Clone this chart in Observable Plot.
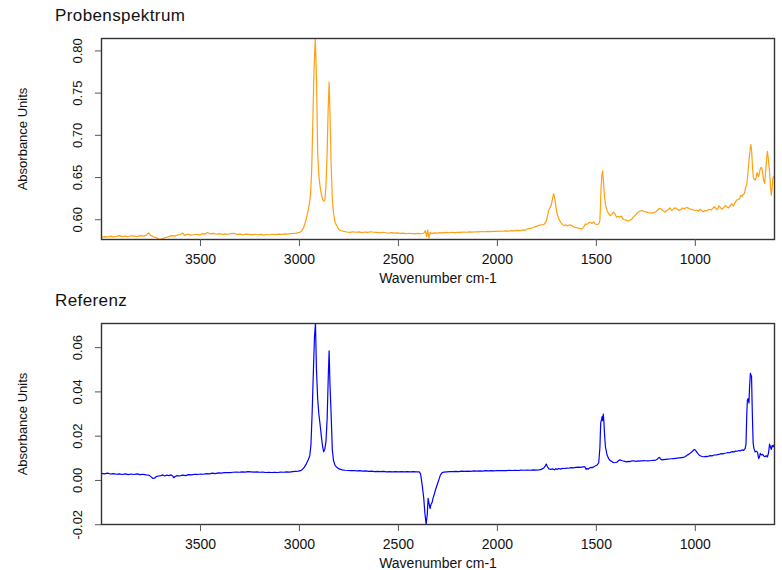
<!DOCTYPE html>
<html><head><meta charset="utf-8">
<script src="https://cdn.jsdelivr.net/npm/d3@7"></script>
<script src="https://cdn.jsdelivr.net/npm/@observablehq/plot@0.6"></script>
<style>
body{margin:0;background:#fff;font-family:"Liberation Sans",Arial,sans-serif}
#wrap{position:relative;width:782px;height:570px;overflow:hidden}
.title{position:absolute;left:55px;font-size:17px;letter-spacing:0.4px;line-height:17px;color:#111;white-space:nowrap}
.panel{position:absolute;left:0}
</style></head><body>
<div id="wrap"></div>
<script>
// ---------- data ----------
const xTicks = [3500, 3000, 2500, 2000, 1500, 1000];
const topYTicks = [0.60, 0.65, 0.70, 0.75, 0.80];
const bottomYTicks = [-0.02, 0.00, 0.02, 0.04, 0.06];
const titles = ["Probenspektrum", "Referenz"];

const probeWn = [4000,3985,3970,3955,3940,3925,3910,3895,3880,3865,3850,3835,3820,3805,3790,3775,3762,3755,3740,3725,3710,3700,3690,3675,3660,3645,3630,3615,3600,3590,3580,3565,3550,3535,3520,3505,3490,3475,3465,3450,3435,3420,3405,3390,3375,3360,3345,3330,3315,3300,3285,3270,3255,3240,3225,3210,3195,3180,3165,3150,3135,3120,3105,3090,3075,3060,3045,3030,3015,3000,2990,2980,2970,2960,2950,2944,2938,2932,2926,2920,2914,2908,2902,2896,2890,2884,2877,2871,2866,2860,2855,2850,2845,2840,2834,2828,2820,2810,2800,2790,2775,2760,2745,2730,2715,2700,2685,2670,2655,2640,2625,2610,2595,2580,2565,2550,2535,2520,2505,2490,2475,2460,2445,2430,2415,2400,2385,2372,2364,2358,2352,2346,2340,2332,2320,2305,2290,2275,2260,2245,2230,2215,2200,2185,2170,2155,2140,2125,2110,2095,2080,2065,2050,2035,2020,2005,1990,1975,1960,1945,1930,1915,1900,1885,1870,1860,1850,1840,1830,1820,1810,1800,1790,1780,1765,1752,1742,1735,1728,1722,1716,1710,1704,1698,1690,1680,1672,1664,1656,1648,1640,1631,1622,1614,1606,1598,1590,1580,1572,1564,1556,1548,1540,1530,1522,1514,1506,1496,1488,1482,1476,1472,1468,1464,1460,1454,1446,1438,1430,1422,1414,1406,1398,1390,1382,1374,1366,1358,1350,1340,1332,1322,1314,1305,1296,1288,1280,1270,1262,1254,1246,1238,1228,1218,1210,1200,1192,1184,1176,1168,1160,1152,1144,1136,1128,1120,1112,1104,1096,1088,1080,1072,1064,1056,1048,1040,1032,1024,1016,1008,1000,992,984,976,968,960,952,944,936,928,920,912,904,896,888,880,872,864,856,848,840,832,824,816,808,800,792,784,776,770,764,758,752,746,740,734,728,722,719,715,711,707,702,697,692,688,684,680,676,671,666,661,656,650,645,640,636,632,628,624,620,616,612,608,604,600];
const probeAbs = [0.5793,0.5800,0.5796,0.5805,0.5798,0.5803,0.5812,0.5800,0.5806,0.5798,0.5810,0.5805,0.5800,0.5812,0.5806,0.5815,0.5845,0.5820,0.5800,0.5790,0.5772,0.5768,0.5778,0.5790,0.5800,0.5812,0.5806,0.5820,0.5825,0.5842,0.5815,0.5830,0.5818,0.5822,0.5828,0.5820,0.5835,0.5830,0.5848,0.5832,0.5838,0.5828,0.5835,0.5826,0.5832,0.5828,0.5835,0.5840,0.5826,0.5830,0.5822,0.5830,0.5826,0.5820,0.5828,0.5822,0.5826,0.5818,0.5825,0.5822,0.5828,0.5824,0.5830,0.5826,0.5832,0.5830,0.5835,0.5838,0.5842,0.5850,0.5865,0.5900,0.5970,0.6070,0.6180,0.6300,0.6600,0.7200,0.7800,0.8147,0.7700,0.6800,0.6520,0.6400,0.6310,0.6250,0.6220,0.6240,0.6400,0.6800,0.7300,0.7627,0.7200,0.6670,0.6250,0.6080,0.5970,0.5920,0.5885,0.5870,0.5862,0.5855,0.5850,0.5858,0.5852,0.5856,0.5848,0.5855,0.5850,0.5858,0.5852,0.5850,0.5845,0.5852,0.5846,0.5840,0.5848,0.5842,0.5845,0.5838,0.5842,0.5835,0.5840,0.5836,0.5832,0.5838,0.5834,0.5840,0.5870,0.5800,0.5880,0.5786,0.5850,0.5835,0.5845,0.5842,0.5848,0.5845,0.5850,0.5846,0.5852,0.5848,0.5852,0.5850,0.5855,0.5852,0.5856,0.5854,0.5858,0.5856,0.5860,0.5858,0.5862,0.5860,0.5864,0.5862,0.5866,0.5864,0.5868,0.5866,0.5870,0.5868,0.5874,0.5870,0.5880,0.5876,0.5890,0.5895,0.5900,0.5905,0.5915,0.5925,0.5935,0.5940,0.5942,0.5990,0.6100,0.6140,0.6170,0.6240,0.6310,0.6250,0.6150,0.6070,0.6010,0.5970,0.5945,0.5930,0.5940,0.5925,0.5935,0.5940,0.5925,0.5915,0.5910,0.5905,0.5900,0.5895,0.5892,0.5910,0.5950,0.5945,0.5960,0.5970,0.5955,0.5975,0.5950,0.5945,0.5950,0.5990,0.6390,0.6530,0.6580,0.6450,0.6300,0.6180,0.6110,0.6070,0.6050,0.6060,0.6090,0.6070,0.6030,0.6040,0.6030,0.6045,0.6010,0.6000,0.5995,0.5985,0.5990,0.6005,0.6030,0.6050,0.6075,0.6090,0.6100,0.6110,0.6100,0.6095,0.6090,0.6085,0.6082,0.6078,0.6085,0.6095,0.6110,0.6130,0.6135,0.6115,0.6100,0.6090,0.6110,0.6125,0.6140,0.6110,0.6125,0.6140,0.6135,0.6120,0.6110,0.6125,0.6140,0.6130,0.6140,0.6145,0.6130,0.6125,0.6120,0.6115,0.6110,0.6115,0.6100,0.6125,0.6110,0.6095,0.6110,0.6105,0.6115,0.6125,0.6115,0.6135,0.6155,0.6130,0.6120,0.6165,0.6140,0.6125,0.6145,0.6170,0.6150,0.6140,0.6165,0.6190,0.6160,0.6200,0.6230,0.6240,0.6250,0.6290,0.6275,0.6300,0.6310,0.6380,0.6420,0.6560,0.6720,0.6860,0.6890,0.6800,0.6620,0.6500,0.6480,0.6470,0.6510,0.6560,0.6530,0.6510,0.6560,0.6610,0.6620,0.6580,0.6480,0.6430,0.6560,0.6720,0.6810,0.6740,0.6640,0.6540,0.6380,0.6290,0.6380,0.6500,0.6510,0.6520];

const refWn = [4000,3985,3970,3955,3940,3925,3910,3895,3880,3865,3850,3835,3820,3805,3790,3775,3760,3748,3740,3732,3724,3712,3700,3690,3680,3670,3660,3648,3640,3635,3628,3618,3605,3590,3575,3560,3545,3530,3515,3500,3485,3470,3455,3440,3425,3410,3395,3380,3365,3350,3335,3320,3305,3290,3275,3260,3245,3230,3215,3200,3185,3170,3155,3140,3125,3110,3095,3080,3065,3050,3035,3020,3005,2995,2985,2975,2965,2955,2948,2942,2936,2930,2924,2919,2914,2908,2902,2896,2890,2884,2878,2872,2866,2860,2854,2850,2846,2840,2834,2828,2820,2810,2800,2785,2770,2755,2740,2725,2710,2695,2680,2665,2650,2635,2620,2605,2590,2575,2560,2545,2530,2515,2500,2485,2470,2455,2440,2425,2410,2395,2388,2380,2372,2366,2360,2354,2350,2346,2340,2336,2330,2325,2318,2310,2302,2295,2288,2280,2270,2255,2240,2225,2210,2195,2180,2165,2150,2135,2120,2105,2090,2075,2060,2045,2030,2015,2000,1985,1970,1955,1940,1925,1910,1895,1880,1865,1850,1835,1820,1805,1790,1778,1766,1758,1753,1747,1740,1730,1720,1712,1705,1698,1690,1680,1670,1660,1650,1640,1628,1616,1604,1592,1580,1568,1558,1552,1548,1542,1535,1527,1520,1512,1504,1496,1488,1482,1478,1474,1471,1468,1465,1462,1458,1454,1446,1438,1430,1420,1412,1404,1395,1388,1380,1372,1364,1356,1348,1340,1332,1324,1316,1308,1300,1292,1284,1276,1268,1260,1250,1240,1230,1220,1210,1200,1192,1186,1181,1176,1168,1160,1150,1140,1130,1120,1110,1100,1090,1080,1070,1060,1050,1040,1030,1020,1012,1006,1000,994,988,980,972,964,956,948,940,932,924,916,908,900,892,884,876,868,860,852,844,836,828,820,812,804,796,788,780,772,764,756,748,744,740,737,733,729,726,722,719,716,712,708,704,698,692,686,680,676,672,666,660,654,648,642,636,630,625,620,616,612,607,603,600];
const refAbs = [0.0032,0.0030,0.0033,0.0029,0.0031,0.0028,0.0030,0.0027,0.0030,0.0026,0.0029,0.0027,0.0030,0.0026,0.0028,0.0025,0.0024,0.0015,0.0009,0.0010,0.0017,0.0020,0.0022,0.0025,0.0020,0.0024,0.0022,0.0025,0.0020,0.0012,0.0018,0.0022,0.0020,0.0024,0.0022,0.0026,0.0025,0.0028,0.0027,0.0029,0.0028,0.0031,0.0030,0.0033,0.0031,0.0034,0.0033,0.0035,0.0036,0.0035,0.0037,0.0038,0.0037,0.0039,0.0038,0.0040,0.0039,0.0038,0.0039,0.0037,0.0038,0.0036,0.0037,0.0036,0.0037,0.0036,0.0038,0.0037,0.0039,0.0038,0.0040,0.0041,0.0042,0.0044,0.0050,0.0060,0.0075,0.0095,0.0110,0.0160,0.0300,0.0480,0.0650,0.0709,0.0500,0.0370,0.0300,0.0255,0.0205,0.0160,0.0130,0.0140,0.0175,0.0280,0.0480,0.0586,0.0440,0.0300,0.0140,0.0090,0.0068,0.0058,0.0052,0.0048,0.0046,0.0045,0.0044,0.0045,0.0043,0.0044,0.0042,0.0043,0.0041,0.0042,0.0040,0.0041,0.0040,0.0041,0.0039,0.0040,0.0039,0.0040,0.0039,0.0040,0.0039,0.0040,0.0039,0.0040,0.0039,0.0039,0.0030,-0.0020,-0.0080,-0.0150,-0.0199,-0.0150,-0.0081,-0.0100,-0.0127,-0.0110,-0.0100,-0.0080,-0.0060,-0.0035,-0.0014,0.0005,0.0024,0.0034,0.0038,0.0039,0.0040,0.0040,0.0041,0.0040,0.0042,0.0041,0.0042,0.0041,0.0043,0.0042,0.0043,0.0042,0.0044,0.0043,0.0044,0.0043,0.0045,0.0044,0.0045,0.0044,0.0046,0.0045,0.0046,0.0045,0.0047,0.0046,0.0047,0.0046,0.0048,0.0047,0.0048,0.0050,0.0056,0.0066,0.0074,0.0062,0.0052,0.0050,0.0052,0.0048,0.0053,0.0050,0.0054,0.0051,0.0055,0.0054,0.0056,0.0055,0.0058,0.0057,0.0059,0.0060,0.0059,0.0061,0.0062,0.0050,0.0055,0.0051,0.0056,0.0059,0.0058,0.0062,0.0066,0.0070,0.0080,0.0150,0.0260,0.0275,0.0288,0.0270,0.0300,0.0265,0.0200,0.0152,0.0115,0.0099,0.0090,0.0084,0.0080,0.0081,0.0083,0.0090,0.0093,0.0090,0.0088,0.0086,0.0084,0.0086,0.0085,0.0087,0.0089,0.0088,0.0086,0.0088,0.0087,0.0089,0.0088,0.0090,0.0089,0.0088,0.0089,0.0090,0.0091,0.0092,0.0096,0.0102,0.0104,0.0097,0.0093,0.0094,0.0095,0.0096,0.0097,0.0098,0.0099,0.0100,0.0101,0.0102,0.0103,0.0104,0.0108,0.0115,0.0120,0.0127,0.0134,0.0140,0.0137,0.0130,0.0122,0.0114,0.0110,0.0108,0.0107,0.0109,0.0108,0.0110,0.0112,0.0111,0.0114,0.0116,0.0115,0.0118,0.0119,0.0121,0.0120,0.0123,0.0124,0.0126,0.0125,0.0128,0.0130,0.0129,0.0133,0.0132,0.0135,0.0134,0.0138,0.0136,0.0145,0.0165,0.0300,0.0363,0.0370,0.0350,0.0420,0.0484,0.0476,0.0470,0.0303,0.0170,0.0145,0.0129,0.0132,0.0128,0.0099,0.0105,0.0122,0.0115,0.0118,0.0110,0.0107,0.0112,0.0106,0.0125,0.0164,0.0150,0.0140,0.0158,0.0152,0.0160,0.0158];

// ---------- drawing ----------
const wrap = document.getElementById("wrap");
const fmt = d => d.toFixed(2);

function panel(wn, ab, color, yDomain, yTicks, title, top) {
  const data = wn.map((w, i) => ({w, a: ab[i]}));
  const chart = Plot.plot({
    width: 782, height: 285,
    marginLeft: 101, marginRight: 8, marginTop: 38, marginBottom: 46,
    style: {fontFamily: "'Liberation Sans', Arial, sans-serif", fontSize: "13px", color: "#111", background: "transparent", overflow: "visible"},
    x: {domain: [4000, 600]},
    y: {domain: yDomain},
    marks: [
      Plot.line(data, {x: "w", y: "a", stroke: color, strokeWidth: 1.2}),
      Plot.frame({stroke: "#333", strokeWidth: 1.4}),
      Plot.axisX({ticks: xTicks, tickSize: 7, tickPadding: 8, tickFormat: d => String(d), fontSize: 14, stroke: "#555",
        label: "Wavenumber cm-1", labelAnchor: "center", labelArrow: "none", labelOffset: 43}),
      Plot.axisY({ticks: yTicks, tickSize: 6, tickRotate: -90, tickPadding: 14, tickFormat: fmt, fontSize: 13, stroke: "#555",
        label: "Absorbance Units", labelAnchor: "center", labelArrow: "none", labelOffset: 84})
    ]
  });
  chart.classList.add("panel");
  chart.style.top = top + "px";
  wrap.appendChild(chart);
  const t = document.createElement("div");
  t.className = "title";
  t.textContent = title;
  t.style.top = (top + 7) + "px";
  wrap.appendChild(t);
}

panel(probeWn, probeAbs, "#FFA010", [0.5766, 0.8147], topYTicks, titles[0], 0);
panel(refWn, refAbs, "#0000FF", [-0.0199, 0.0709], bottomYTicks, titles[1], 285);
</script>
</body></html>
